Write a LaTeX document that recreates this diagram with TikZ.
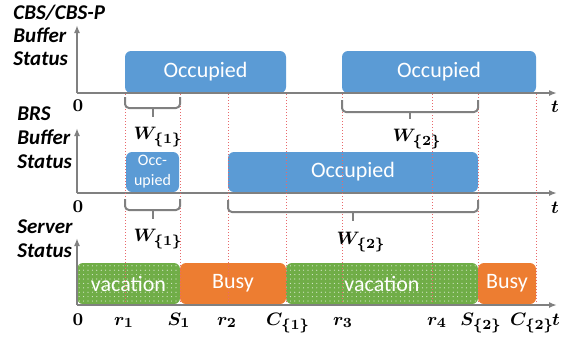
\documentclass[tikz,border=0pt]{standalone}
\usepackage{fontspec}
\setsansfont{Carlito}
\usepackage{amsmath,bm}
\usetikzlibrary{patterns.meta,arrows.meta}

\definecolor{occblue}{HTML}{5B9BD5}
\definecolor{busyorange}{HTML}{ED7D31}
\definecolor{vacgreen}{HTML}{70AD47}
\definecolor{axisgray}{HTML}{808080}
\definecolor{tickred}{HTML}{E8696B}

\tikzset{
  axis/.style={draw=axisgray, line width=0.8pt, -{Latex[length=4pt,width=3pt]}},
  occ/.style={fill=occblue, rounded corners=3pt},
  busy/.style={fill=busyorange, rounded corners=3pt},
  vac/.style={fill=vacgreen, rounded corners=3pt},
  vacdots/.style={pattern={Dots[distance=2.2pt, radius=0.3pt]},
    pattern color=white!75!vacgreen, rounded corners=3pt},
  boxtext/.style={text=white, font=\sffamily\fontsize{11}{12}\selectfont, inner sep=0pt},
  tline/.style={draw=tickred, densely dotted, line width=0.5pt},
  brk/.style={draw=axisgray, line width=1pt, rounded corners=2pt},
  rowlabel/.style={anchor=west, align=left, inner sep=0pt,
    font=\sffamily\bfseries\itshape\fontsize{10.5}{11.5}\selectfont},
  wlabel/.style={font=\fontsize{9.5}{10}\selectfont, inner sep=0pt},
  tlabel/.style={font=\fontsize{9.5}{10}\selectfont, inner sep=0pt, anchor=base}
}

\begin{document}
\begin{tikzpicture}[x=0.5pt, y=-0.5pt]
\useasboundingbox (0,0) rectangle (563,345);

% row titles
\node[rowlabel] (cbslbl) at (13,35) {CBS/CBS-P\\Buffer\\Status};
\node[rowlabel, font=\sffamily\bfseries\itshape\fontsize{10.5}{12}\selectfont] (brslbl) at (17,138) {BRS\\Buffer\\Status};
\node[rowlabel, font=\sffamily\bfseries\itshape\fontsize{10.5}{12}\selectfont] (srvlbl) at (17,239) {Server\\Status};

% CBS/CBS-P buffer
\fill[occ] (125,51) rectangle (286,93) node[midway, boxtext] (occA) {Occupied};
\fill[occ] (342,51) rectangle (536,93) node[midway, boxtext] (occB) {Occupied};

% BRS buffer
\fill[occ] (126,152) rectangle (179,192) node[midway, boxtext, align=center,
  font=\sffamily\fontsize{8}{10}\selectfont] (occC) {Occ-\\upied};
\fill[occ] (228,152) rectangle (478,192) node[midway, boxtext] (occD) {Occupied};

% server
\fill[vac] (77,263) rectangle (180,304);
\fill[vacdots] (77,263) rectangle (180,304) node[midway, boxtext] (vacA) {vacation};
\fill[busy] (180,263) rectangle (286,304) node[midway, boxtext] (busyA) {Busy};
\fill[vac] (286,263) rectangle (478,304);
\fill[vacdots] (286,263) rectangle (478,304) node[midway, boxtext] (vacB) {vacation};
\fill[busy] (478,263) rectangle (536,304) node[midway, boxtext] (busyB) {Busy};

% axes
\draw[axis] (77,93) -- (77,25);
\draw[axis] (77,93) -- (557,93);
\draw[axis] (77,193) -- (77,128);
\draw[axis] (77,193) -- (557,193);
\draw[axis] (77,305) -- (77,238);
\draw[axis] (77,305) -- (557,305);

% event times
\foreach \x in {125,180,228,286,342,432,478,536}
  \draw[tline] (\x,94) -- (\x,304);

% waiting times
\draw[brk] (125,97) -- (125,108) -- (180,108) -- (180,97);
\draw[brk] (152.5,108) -- (152.5,117);
\node[wlabel] (w1a) at (158,137) {$\bm{W_{\{1\}}}$};
\draw[brk] (342,100) -- (342,112) -- (478,112) -- (478,100);
\draw[brk] (410,112) -- (410,119);
\node[wlabel] (w2a) at (417,139) {$\bm{W_{\{2\}}}$};
\draw[brk] (125,199) -- (125,210) -- (180,210) -- (180,199);
\draw[brk] (152.5,210) -- (152.5,219);
\node[wlabel] (w1b) at (158,239) {$\bm{W_{\{1\}}}$};
\draw[brk] (228,200) -- (228,212) -- (478,212) -- (478,200);
\draw[brk] (353,212) -- (353,221);
\node[wlabel] (w2b) at (361,242) {$\bm{W_{\{2\}}}$};

% axis labels
\node[tlabel] (zeroA) at (78,111) {$\bm{0}$};
\node[tlabel] (zeroB) at (78,212) {$\bm{0}$};
\node[tlabel] (tA) at (555,112) {$\bm{t}$};
\node[tlabel] (tB) at (555,213) {$\bm{t}$};
\node[tlabel] (zeroC) at (78,325) {$\bm{0}$};
\node[tlabel] (r1) at (124,325) {$\bm{r_1}$};
\node[tlabel] (s1) at (179,325) {$\bm{S_1}$};
\node[tlabel] (r2) at (227,325) {$\bm{r_2}$};
\node[tlabel] (c1) at (288,325) {$\bm{C_{\{1\}}}$};
\node[tlabel] (r3) at (343,325) {$\bm{r_3}$};
\node[tlabel] (r4) at (437,325) {$\bm{r_4}$};
\node[tlabel] (s2) at (481,325) {$\bm{S_{\{2\}}}$};
\node[tlabel] (c2) at (532,325) {$\bm{C_{\{2\}}}$};
\node[tlabel] (tC) at (556,325) {$\bm{t}$};

\end{tikzpicture}
\end{document}
